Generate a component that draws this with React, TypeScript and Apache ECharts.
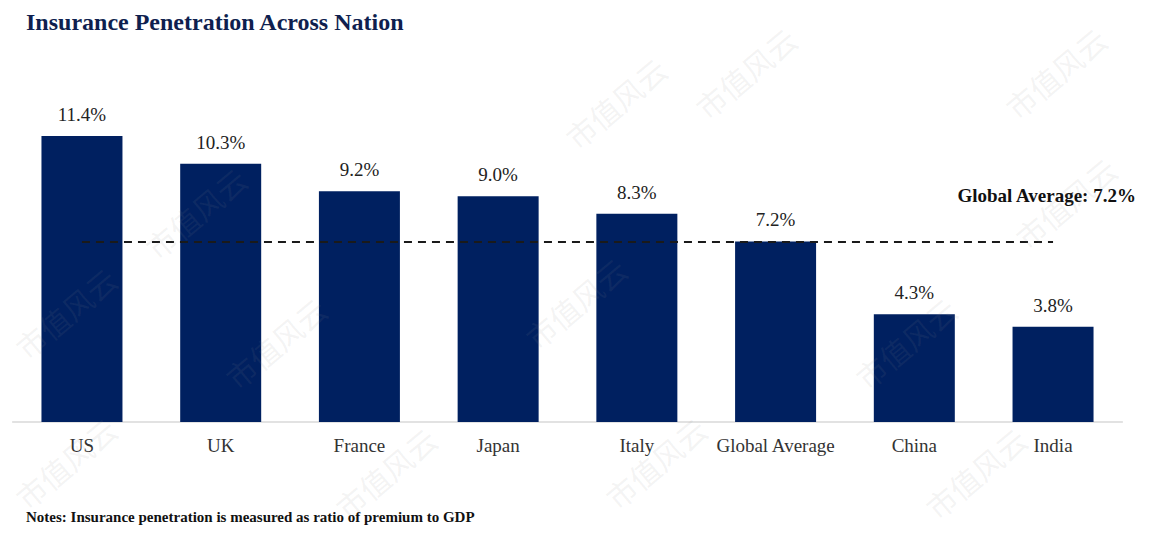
import React, { useEffect, useRef } from "react";
import * as echarts from "echarts";

const categories = ["US", "UK", "France", "Japan", "Italy", "Global Average", "China", "India"];
const penetration = [11.4, 10.3, 9.2, 9.0, 8.3, 7.2, 4.3, 3.8];
const globalAverage = 7.2;
const titleText = "Insurance Penetration Across Nation";
const noteText = "Notes: Insurance penetration is measured as ratio of premium to GDP";
const avgLabel = "Global Average: 7.2%";
const watermarkText = "市值风云";
const watermarkSpots = [
  [140, 240], [220, 370], [520, 330], [560, 130], [690, 100], [850, 370],
  [1000, 100], [1010, 230], [600, 490], [10, 340], [10, 490], [920, 500],
  [330, 500],
];

export default function App() {
  const ref = useRef<HTMLDivElement>(null);
  useEffect(() => {
    document.body.style.margin = "0";
    const chart = echarts.init(ref.current!, null, { renderer: "svg" });
    const serif = "'Liberation Serif', 'Times New Roman', serif";
    chart.setOption({
      animation: false,
      backgroundColor: "#ffffff",
      grid: { left: 12.6, right: 29.6, top: 121, bottom: 116 },
      xAxis: {
        type: "category",
        data: categories,
        axisLine: { lineStyle: { color: "#d9d9d9", width: 1.5 } },
        axisTick: { show: false },
        axisLabel: { interval: 0, fontFamily: serif, fontSize: 19, color: "#333333", margin: 14 },
      },
      yAxis: { type: "value", min: 0, max: 12, show: false, splitLine: { show: false } },
      graphic: [
        ...watermarkSpots.map(([x, y]) => ({
          type: "text",
          x,
          y,
          rotation: Math.PI * 40 / 180,
          silent: true,
          z: 100,
          style: {
            text: watermarkText,
            fill: "rgba(140,140,140,0.1)",
            font: "30px 'Noto Sans CJK SC'",
          },
        })),
        {
          type: "text",
          left: 26,
          top: 10,
          style: { text: titleText, fill: "#0f1f4f", font: `bold 24px ${serif}` },
        },
        {
          type: "text",
          right: 15,
          top: 186,
          style: { text: avgLabel, fill: "#111111", font: `bold 19px ${serif}` },
        },
        {
          type: "text",
          left: 26,
          top: 509,
          style: { text: noteText, fill: "#111111", font: `bold 15px ${serif}` },
        },
      ],
      series: [
        {
          type: "bar",
          data: penetration,
          barWidth: 81,
          itemStyle: { color: "#002060" },
          label: {
            show: true,
            position: "top",
            distance: 12,
            formatter: (p: any) => p.value.toFixed(1) + "%",
            fontFamily: serif,
            fontSize: 19,
            color: "#222222",
          },
          markLine: {
            silent: true,
            symbol: "none",
            z: 10,
            label: { show: false },
            lineStyle: { color: "#1a1a1a", type: [8, 6], width: 2 },
            data: [[{ coord: ["US", globalAverage] }, { coord: ["India", globalAverage] }]],
          },
        },
      ],
    });
    return () => chart.dispose();
  }, []);
  return <div ref={ref} style={{ width: 1152, height: 538 }} />;
}
